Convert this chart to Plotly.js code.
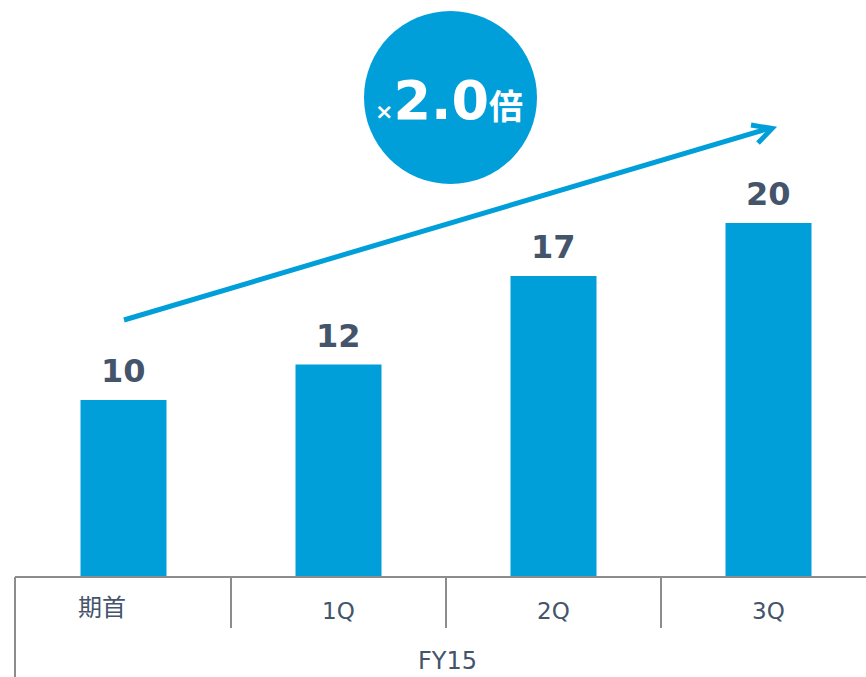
<!DOCTYPE html>
<html>
<head>
<meta charset="utf-8">
<script src="https://cdn.plot.ly/plotly-3.0.1.min.js"></script>
<style>html,body{margin:0;padding:0;background:#fff;}#chart{width:866px;height:677px;}</style>
</head>
<body>
<div id="chart"></div>
<script>
const categories = ['期首', '1Q', '2Q', '3Q'];
const values = [10, 12, 17, 20];
const groupLabel = 'FY15';
const growthText = '2.0';

const W = 866, H = 677;
const M = {l: 16, r: 0, t: 0, b: 100};
const PW = W - M.l - M.r, PH = H - M.t - M.b;
const xr = [-0.5, -0.5 + PW / 215];
const yr = [0, PH / 17.7];

const BAR = '#009FDA';
const TXT = '#44546A';
const AX = '#8C8C8C';
const FONT = 'DejaVu Sans, Verdana, Noto Sans CJK JP, sans-serif';

function px(x) { return (x - M.l) / PW; }
function py(y) { return (H - M.b - y) / PH; }
function xd2p(v) { return (v - xr[0]) / (xr[1] - xr[0]); }

const shapes = [];
// baseline
shapes.push({type: 'line', xref: 'paper', yref: 'paper', x0: px(15), x1: 1, y0: 0, y1: 0,
  line: {color: AX, width: 2}});
// separators
categories.forEach((c, i) => {
  const xp = i === 0 ? px(15) : xd2p(i - 0.5);
  shapes.push({type: 'line', xref: 'paper', yref: 'paper', x0: xp, x1: xp, y0: 0,
    y1: i === 0 ? py(677) : py(628), line: {color: AX, width: 2}});
});
// growth circle
shapes.push({type: 'circle', xref: 'paper', yref: 'paper', x0: px(364), x1: px(537),
  y0: py(184), y1: py(11), fillcolor: BAR, line: {width: 0}});
// arrow
shapes.push({type: 'line', xref: 'paper', yref: 'paper', x0: px(124), y0: py(320), x1: px(770), y1: py(128),
  line: {color: BAR, width: 5}});
shapes.push({type: 'path', xref: 'paper', yref: 'paper',
  path: `M ${px(751)} ${py(125)} L ${px(772)} ${py(128.5)} L ${px(758)} ${py(143)}`,
  line: {color: BAR, width: 5}});

const annotations = [];
values.forEach((v, i) => {
  annotations.push({x: categories[i], y: v, xref: 'x', yref: 'y', text: String(v), showarrow: false,
    yanchor: 'middle', yshift: 29, font: {family: FONT, size: 32, color: TXT, weight: 'bold'}});
});
categories.forEach((c, i) => {
  annotations.push({x: c, y: py(i === 0 ? 608 : 611), xref: 'x', yref: 'paper', text: c, showarrow: false,
    xshift: i === 0 ? -22 : 0, yanchor: 'middle',
    font: {family: FONT, size: i === 0 ? 24 : 23, color: TXT}});
});
annotations.push({x: px(447), y: py(661), xref: 'paper', yref: 'paper', text: groupLabel, showarrow: false,
  yanchor: 'middle', font: {family: FONT, size: 24, color: TXT}});
annotations.push({x: px(449), y: py(101), xref: 'paper', yref: 'paper', showarrow: false, yanchor: 'middle',
  text: '<span style="font-size:22px">×</span>' + growthText + '<span style="font-size:34px">倍</span>',
  font: {family: FONT, size: 54, color: '#FFFFFF', weight: 'bold'}});

const data = [{
  type: 'bar', x: categories, y: values, width: 0.4,
  marker: {color: BAR, line: {width: 0}}, hoverinfo: 'skip'
}];

const layout = {
  width: W, height: H, margin: M, showlegend: false,
  paper_bgcolor: '#fff', plot_bgcolor: '#fff',
  xaxis: {range: xr, showgrid: false, zeroline: false, showticklabels: false, showline: false, ticks: '', fixedrange: true},
  yaxis: {range: yr, showgrid: false, zeroline: false, showticklabels: false, showline: false, ticks: '', fixedrange: true},
  shapes: shapes, annotations: annotations
};

Plotly.newPlot('chart', data, layout, {displayModeBar: false, staticPlot: true});
</script>
</body>
</html>
